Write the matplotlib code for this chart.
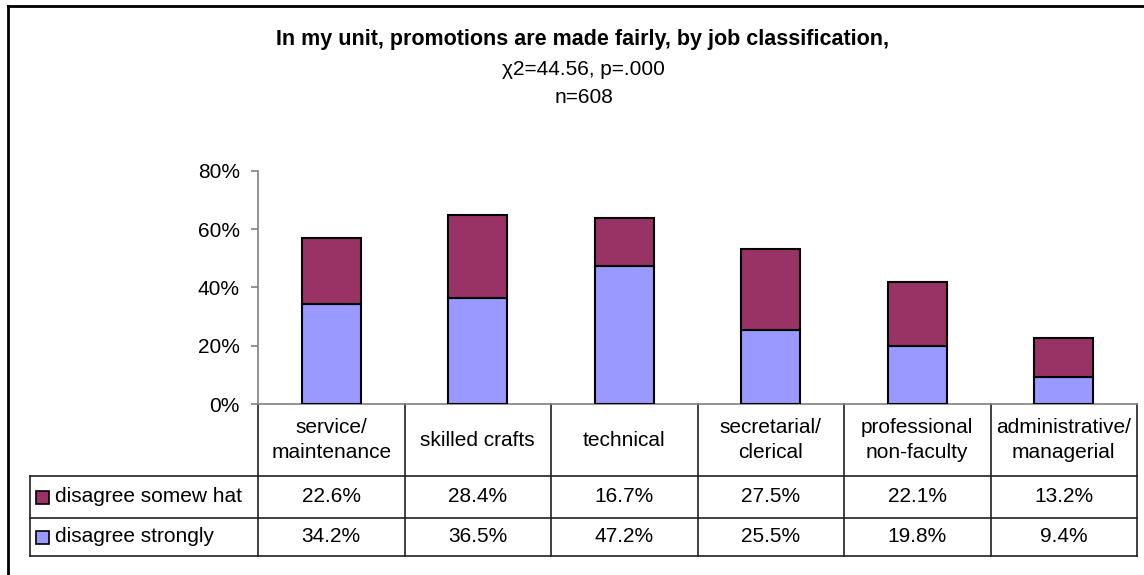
import matplotlib
matplotlib.use("Agg")
import matplotlib.pyplot as plt
from matplotlib.patches import Rectangle
from matplotlib.lines import Line2D
from matplotlib.transforms import blended_transform_factory
from matplotlib.ticker import PercentFormatter
import numpy as np

plt.rcParams['font.family'] = ['Liberation Sans', 'DejaVu Sans']

categories = ["service/\nmaintenance", "skilled crafts", "technical",
              "secretarial/\nclerical", "professional\nnon-faculty",
              "administrative/\nmanagerial"]
series_names = ["disagree somew hat", "disagree strongly"]
disagree_somewhat = [22.6, 28.4, 16.7, 27.5, 22.1, 13.2]
disagree_strongly = [34.2, 36.5, 47.2, 25.5, 19.8, 9.4]
yticks = [0, 20, 40, 60, 80]

col_somewhat = '#993366'
col_strongly = '#9999FF'

W, H = 1144, 575
fig = plt.figure(figsize=(W / 100, H / 100), dpi=100)


def fx(px):
    return px / W


def fy(py):
    return 1 - py / H


# plot area
ax_left, ax_right, ax_bottom, ax_top = 258, 1137, 404, 170.7
ax = fig.add_axes([fx(ax_left), fy(ax_bottom), (ax_right - ax_left) / W, (ax_bottom - ax_top) / H])
x = np.arange(len(categories))
strong = np.array(disagree_strongly)
some = np.array(disagree_somewhat)
ax.bar(x, strong, width=0.4, color=col_strongly, edgecolor='black', linewidth=1.5, zorder=3)
ax.bar(x, some, bottom=strong, width=0.4, color=col_somewhat, edgecolor='black', linewidth=1.5, zorder=3)
ax.set_xlim(-0.5, len(categories) - 0.5)
ax.set_ylim(0, 80)
ax.set_yticks(yticks)
ax.yaxis.set_major_formatter(PercentFormatter(decimals=0))
ax.set_xticks([])
for s in ['top', 'right']:
    ax.spines[s].set_visible(False)
for s in ['left', 'bottom']:
    ax.spines[s].set_color('#808080')
    ax.spines[s].set_linewidth(1.2)
ax.tick_params(axis='y', direction='out', length=5, width=1.2, color='#808080',
               labelsize=15, pad=8, labelcolor='black')

# data table below the axis
trans = blended_transform_factory(ax.transData, fig.transFigure)
row_h = [404, 476, 518, 556]
row_c = [440, 497, 537]
tbl_left_px = 30
line_kw = dict(color='#202020', linewidth=1.2)

for b in np.arange(len(categories) + 1) - 0.5:
    ax.add_artist(Line2D([b, b], [fy(row_h[0]), fy(row_h[-1])], transform=trans, clip_on=False, **line_kw))
for yy in row_h[1:]:
    fig.add_artist(Line2D([fx(tbl_left_px), fx(ax_left)], [fy(yy), fy(yy)], transform=fig.transFigure, **line_kw))
    ax.add_artist(Line2D([-0.5, len(categories) - 0.5], [fy(yy), fy(yy)], transform=trans, clip_on=False, **line_kw))
fig.add_artist(Line2D([fx(tbl_left_px), fx(tbl_left_px)], [fy(row_h[1]), fy(row_h[-1])],
                      transform=fig.transFigure, **line_kw))

for i, cat in enumerate(categories):
    ax.text(i, fy(row_c[0]), cat, transform=trans, ha='center', va='center',
            fontsize=15, linespacing=1.35, clip_on=False)
    ax.text(i, fy(row_c[1]), f"{disagree_somewhat[i]:.1f}%", transform=trans,
            ha='center', va='center', fontsize=15, clip_on=False)
    ax.text(i, fy(row_c[2]), f"{disagree_strongly[i]:.1f}%", transform=trans,
            ha='center', va='center', fontsize=15, clip_on=False)

# legend keys in the table's first column
sq = 13
for name, col, yc in zip(series_names, [col_somewhat, col_strongly], row_c[1:]):
    fig.add_artist(Rectangle((fx(36), fy(yc + sq / 2)), sq / W, sq / H, transform=fig.transFigure,
                             facecolor=col, edgecolor='black', linewidth=1.2))
    fig.text(fx(55), fy(yc), name, ha='left', va='center', fontsize=15)

# titles
fig.text(fx(583), fy(45), "In my unit, promotions are made fairly, by job classification,",
         ha='center', va='baseline', fontsize=15.5, fontweight='bold')
fig.text(fx(583), fy(75), "\u03c72=44.56, p=.000", ha='center', va='baseline', fontsize=15)
fig.text(fx(584), fy(103), "n=608", ha='center', va='baseline', fontsize=15)

# chart frame
fig.add_artist(Line2D([fx(8), fx(8)], [fy(6), 0], transform=fig.transFigure, color='black', linewidth=2))
fig.add_artist(Line2D([fx(8), 1], [fy(6), fy(6)], transform=fig.transFigure, color='black', linewidth=2))

fig.savefig("out.png", dpi=100, facecolor='white')
